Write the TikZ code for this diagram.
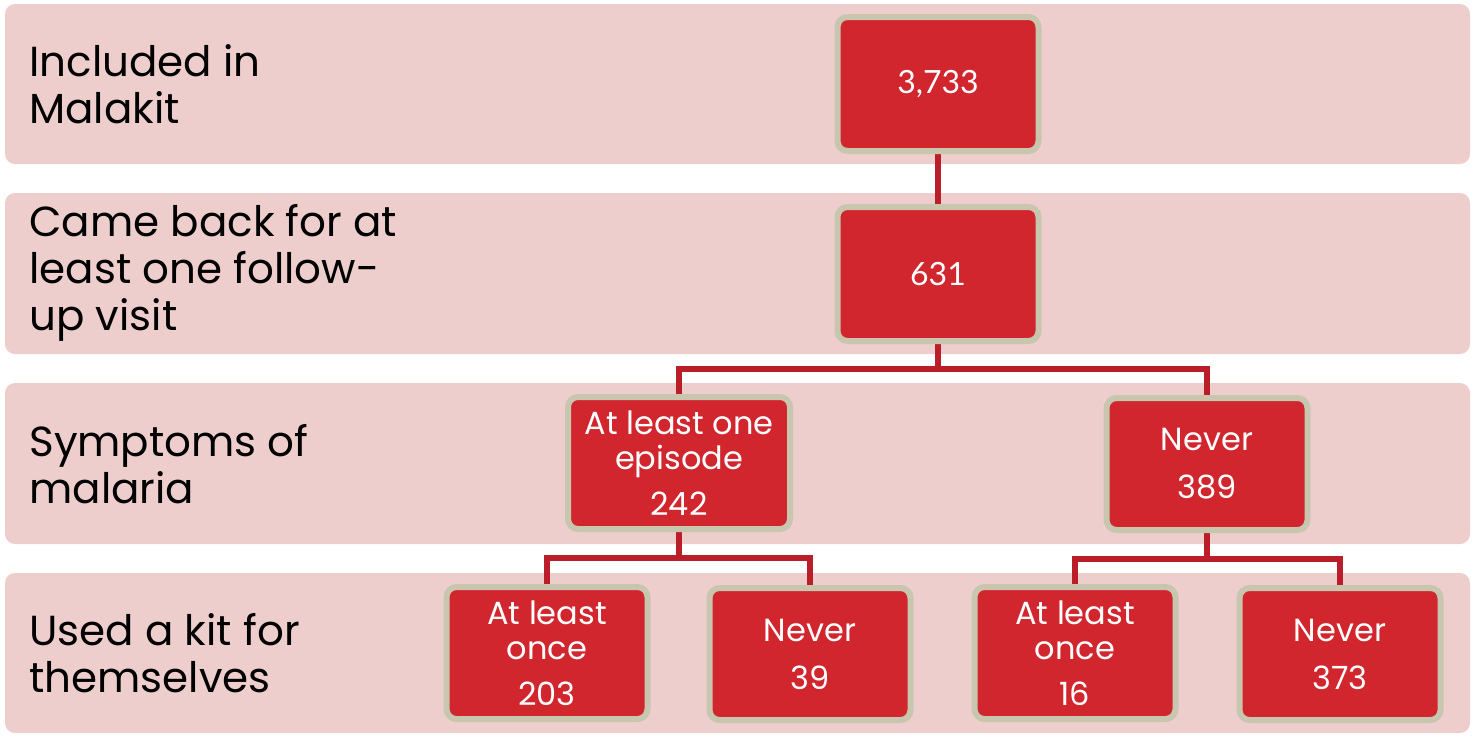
\documentclass[tikz,border=0pt]{standalone}
\usepackage{fontspec}
\setmainfont{Poppins}
\newfontfamily\numfont{Lato}
\usetikzlibrary{calc}
\definecolor{bandpink}{HTML}{EDCECD}
\definecolor{boxred}{HTML}{D1262E}
\definecolor{boxrim}{HTML}{C8C6AF}
\definecolor{linkred}{HTML}{BA1F29}
\pgfdeclarelayer{bands}
\pgfdeclarelayer{links}
\pgfsetlayers{bands,links,main}
\begin{document}
\begin{tikzpicture}[x=0.5pt,y=-0.5pt,
  band/.style={fill=bandpink, rounded corners=5pt},
  rowlabel/.style={anchor=west, inner sep=0pt, align=left,
    font=\fontsize{21}{23.5}\selectfont, text=black},
  countbox/.style={fill=boxred, draw=boxrim, line width=3pt,
    rounded corners=5pt, text=white, align=center, inner sep=0pt,
    font=\fontsize{16}{17.5}\selectfont,
    minimum width=100.5pt, minimum height=66pt},
  link/.style={draw=linkred, line width=3pt, line join=miter}]
\useasboundingbox (0,0) rectangle (1474,736);

% background bands, one per stage
\begin{pgfonlayer}{bands}
  \fill[band] (5,4)   rectangle (1470,164);
  \fill[band] (5,193) rectangle (1470,354);
  \fill[band] (5,383) rectangle (1470,544);
  \fill[band] (5,573) rectangle (1470,733);
\end{pgfonlayer}

% stage labels
\node[rowlabel] (l1) at (29,84)  {Included in\\Malakit};
\node[rowlabel] (l2) at (29,273) {Came back for at\\least one follow-\\up visit};
\node[rowlabel] (l3) at (29,464) {Symptoms of\\malaria};
\node[rowlabel] (l4) at (29,653) {Used a kit for\\themselves};

% counts
\node[countbox, minimum height=67pt] (b1) at (938,84)  {\numfont 3,733};
\node[countbox, minimum height=67pt] (b2) at (938,274) {\numfont 631};
\node[countbox, minimum width=111pt] (s1) at (679,463) {At least one\\episode\\[5.5pt]242};
\node[countbox] (s2) at (1207,464) {Never\\[6.5pt]389};
\node[countbox] (k1) at (547,653)  {At least\\once\\[5.5pt]203};
\node[countbox] (k2) at (810,654)  {Never\\[6.5pt]39};
\node[countbox] (k3) at (1075,653) {At least\\once\\[5.5pt]16};
\node[countbox] (k4) at (1340,654) {Never\\[6.5pt]373};

% connectors
\begin{pgfonlayer}{links}
  \draw[link] (b1.south) -- (b2.north);
  \coordinate (j2) at ($(b2.south)!0.5!(s1.north -| b2.south)$);
  \draw[link] (b2.south) -- (j2) -| (s1.north);
  \draw[link] (j2) -| (s2.north);
  \coordinate (j3) at ($(s1.south)!0.5!(k1.north -| s1.south)$);
  \draw[link] (s1.south) -- (j3) -| (k1.north);
  \draw[link] (j3) -| (k2.north);
  \coordinate (j4) at ($(s2.south)!0.5!(k3.north -| s2.south)$);
  \draw[link] (s2.south) -- (j4) -| (k3.north);
  \draw[link] (j4) -| (k4.north);
\end{pgfonlayer}
\end{tikzpicture}
\end{document}
